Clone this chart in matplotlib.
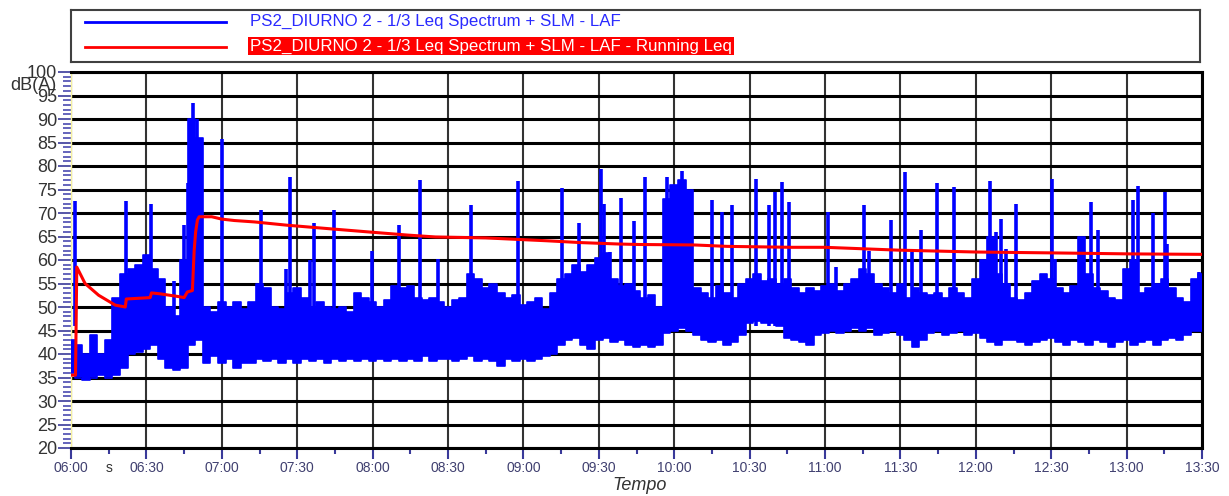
import numpy as np
import matplotlib
matplotlib.use("Agg")
import matplotlib.pyplot as plt
from matplotlib.ticker import FixedLocator, MultipleLocator

plt.rcParams['font.family'] = ['Liberation Sans', 'DejaVu Sans']

# minutes after 06:00, sampled every 3 min
t_band = list(range(0, 451, 3))

band_low = [
    36, 35, 34.5, 35, 35.5,
    35, 35.5, 37, 40, 40.5,
    41, 42, 39, 37, 36.5,
    37, 42, 43, 38, 39.5,
    38, 39, 37, 38, 38,
    39, 38.5, 39, 38, 39,
    38, 39, 38.5, 39, 38,
    39, 38.5, 39, 38.5, 39,
    38.5, 39, 38.5, 39, 38.5,
    39, 38.5, 39.5, 38.5, 39,
    39, 38.5, 39, 39.5, 38.5,
    39, 38.5, 37.5, 39, 38.5,
    39, 38.5, 39, 39.5, 40,
    42, 43, 43.5, 42, 41,
    43, 43.5, 42.5, 43, 42,
    41.5, 42, 41.5, 42, 44.5,
    45, 45.5, 45, 44, 43,
    42.5, 43, 42, 42.5, 44,
    46.5, 47, 46.5, 46.5, 46,
    43.5, 43, 42.5, 42, 44,
    44.5, 45, 44.5, 45, 45.5,
    45, 45.5, 44, 44.5, 45,
    44, 43, 41.5, 43, 44.5,
    45, 44, 44.5, 45, 44,
    44.5, 43.5, 42.5, 42, 43,
    43, 42.5, 42, 42.5, 43,
    43.5, 42.5, 42, 43, 42.5,
    42, 43, 42.5, 41.5, 42.5,
    43, 42, 42.5, 43, 42,
    43, 43.5, 43, 44, 45, 45,
]

band_high = [
    43, 42, 40, 44, 40,
    43, 52, 57, 58, 59,
    61, 58, 56, 50, 48,
    60, 90, 86, 50, 49,
    51, 50, 51, 49.5, 51,
    55, 54, 50, 49.5, 53,
    54, 52, 50, 51, 50,
    49.5, 50, 49, 53, 52,
    51, 50, 51.5, 54.5, 54,
    54.5, 52, 51.5, 52, 51,
    50, 51.5, 52, 57, 56,
    54, 55, 53, 52, 52.5,
    50.5, 51, 52, 49.5, 53,
    56, 57, 59, 57.5, 59,
    60.5, 61.5, 56, 54.5, 55,
    53.5, 52, 52.5, 50, 73,
    76, 77, 75, 54, 53,
    52, 54.5, 53, 52, 55,
    56, 57, 55.5, 56, 55,
    56, 54, 53, 54, 53.5,
    54.5, 55, 53.5, 55, 56,
    58, 57, 55, 54, 53,
    55, 52, 54, 53, 52.5,
    53, 52, 54, 53, 52,
    56, 60, 65, 57, 55,
    52, 51.5, 53, 55.5, 57,
    56, 54, 53, 54.5, 65,
    57, 54, 53.5, 52, 51.5,
    58, 60, 53, 54, 55,
    56, 54, 52, 51, 56, 57,
]

spike_t = [1.5, 22, 32, 41, 45, 46.5, 48.5, 50, 51.6, 60, 75.6, 85.6, 87, 95,
           96.7, 104.5, 119.6, 130.7, 138.7, 146, 159, 177.8, 195.4, 202,
           210.7, 212, 214.5, 218.8, 224, 228.4, 237, 243, 255, 259, 263,
           272.7, 277.6, 280, 282.7, 285.7, 301, 304.4, 315.4, 317.7, 326.3,
           331.9, 334.5, 338, 344.6, 351.5, 365.6, 368, 370, 372, 376, 390.4,
           391.7, 405.7, 408.7, 422.7, 424.7, 430.4, 435.3, 436.2, 448.8]
spike_peak = [72.5, 72.5, 72, 55.5, 67.5, 76.3, 93.3, 90, 84.5, 85.8, 70.6, 58,
              77.7, 60, 67.8, 70.6, 62, 67.4, 77, 60.3, 71.7, 76.8, 75.4, 67.8,
              79.3, 72, 61.7, 73.2, 68.3, 77.7, 77.7, 79, 72.7, 70.2, 71.7,
              77.3, 71.8, 74.5, 76.6, 72.4, 70.2, 58.5, 71.8, 62, 68.5, 78.8,
              61.7, 66.3, 76.3, 75.6, 76.8, 66, 68.8, 62.4, 72, 77.3, 60.3,
              72.4, 66.3, 72.7, 75.7, 69.9, 74.5, 63.5, 57.5]

# running Leq
leq_t = [0, 1.8, 2.3, 5.6, 11, 17.6, 21.6, 22, 31.5, 32, 35.5, 43, 45, 46.3,
         48.3, 49, 49.6, 50.3, 51, 56, 60, 65, 73, 86, 104, 120, 134, 145,
         165, 189, 203, 218, 226, 248, 261, 287, 300, 329, 360, 392, 421, 450]
leq_val = [35.5, 35.5, 58.5, 55, 52.5, 50.4, 50, 51.7, 52, 53, 52.8, 52.2, 52,
           53.2, 53.5, 62, 66, 68.5, 69.2, 69.2, 68.7, 68.4, 68.1, 67.4, 66.6,
           65.9, 65.3, 64.9, 64.7, 64.1, 63.7, 63.4, 63.3, 63.2, 62.9, 62.7,
           62.7, 62.1, 61.7, 61.5, 61.3, 61.2]

x_major = list(range(0, 451, 30))
x_labels = ["06:00", "06:30", "07:00", "07:30", "08:00", "08:30", "09:00", "09:30",
            "10:00", "10:30", "11:00", "11:30", "12:00", "12:30", "13:00", "13:30"]
y_major = list(range(20, 101, 5))

series_blue = "PS2_DIURNO 2 - 1/3 Leq Spectrum + SLM - LAF"
series_red = "PS2_DIURNO 2 - 1/3 Leq Spectrum + SLM - LAF - Running Leq"

W, H = 1229, 496
fig = plt.figure(figsize=(W / 100, H / 100), dpi=100)
ax = fig.add_axes([71 / W, 1 - 448 / H, (1202 - 71) / W, (448 - 72) / H])

blue = "#0000ff"
ax.fill_between(t_band, band_low, band_high, color=blue, lw=0, step="mid", zorder=3)
ax.step(t_band, band_high, where="mid", color=blue, lw=1.2, zorder=3)
ax.step(t_band, band_low, where="mid", color=blue, lw=1.2, zorder=3)
ax.vlines(spike_t, 46, spike_peak, color=blue, lw=2.6, zorder=3)
ax.plot(leq_t, leq_val, color="#ff0000", lw=2.2, zorder=4)

ax.set_xlim(0, 450)
ax.set_ylim(20, 100)

ax.xaxis.set_major_locator(FixedLocator(x_major))
ax.set_xticklabels(x_labels)
ax.xaxis.set_minor_locator(FixedLocator([m + 15 for m in x_major[:-1]]))
ax.set_xticklabels(["s"] + [""] * 14, minor=True)
ax.tick_params(axis="x", which="major", length=8, width=1.5, color="#3a3a9a",
               labelsize=10, labelcolor="#404070", pad=1.5)
ax.tick_params(axis="x", which="minor", length=4.3, width=1.5, color="#3a3a9a",
               labelsize=10, labelcolor="#303030", pad=5.2)

ax.yaxis.set_major_locator(FixedLocator(y_major))
ax.yaxis.set_minor_locator(MultipleLocator(1))
ax.tick_params(axis="y", which="major", length=9.4, width=1.2, color="#3a3a9a",
               labelsize=13, labelcolor="#333333", pad=0.5)
ax.tick_params(axis="y", which="minor", length=5.8, width=1.2, color="#4a4ab0")

ax.grid(True, which="major", axis="y", color="black", lw=2.2, zorder=1)
ax.grid(True, which="major", axis="x", color="#333333", lw=1.5, zorder=1)
for s in ["top", "bottom", "right"]:
    ax.spines[s].set_color("black")
    ax.spines[s].set_linewidth(2.2)
ax.spines["left"].set_color("#f5f0a0")
ax.spines["left"].set_linewidth(1)

fig.text(10 / W, 1 - 86 / H, "dB(A)", fontsize=13, color="#333333", va="center")
fig.text(640 / W, 1 - 486 / H, "Tempo", fontsize=13, style="italic",
         color="#333333", ha="center", va="center")

# legend box
lg = fig.add_axes([71 / W, 1 - 62 / H, (1200 - 71) / W, 52 / H])
lg.set_xlim(71, 1200)
lg.set_ylim(62, 10)
lg.set_xticks([])
lg.set_yticks([])
for s in lg.spines.values():
    s.set_color("#404040")
    s.set_linewidth(1.5)
lg.plot([85, 226], [22, 22], color=blue, lw=2)
lg.plot([85, 226], [47, 47], color="#ff0000", lw=2)
lg.text(250, 21, series_blue, color="#2a2aff", fontsize=12.2, va="center")
lg.text(250, 46, series_red, color="white", fontsize=12.2, va="center",
        bbox=dict(facecolor="#ff0000", edgecolor="none", pad=1.2))

fig.savefig("out.png", dpi=100)
